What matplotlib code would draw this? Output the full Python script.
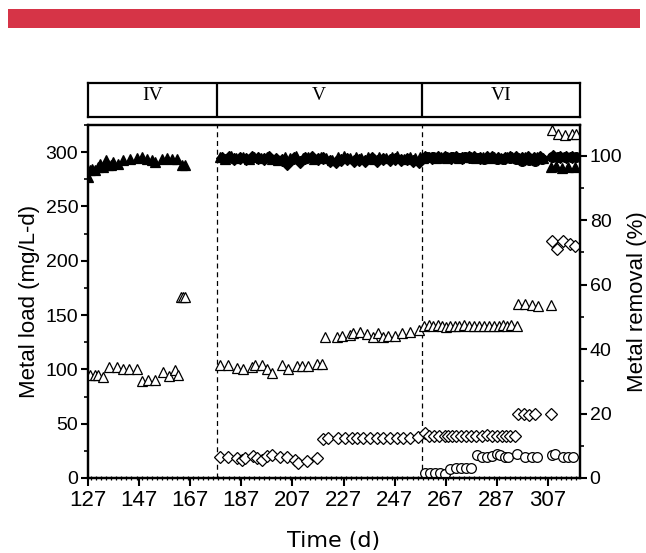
import matplotlib
matplotlib.use("Agg")
import matplotlib.pyplot as plt
from matplotlib.patches import Rectangle
from matplotlib.ticker import MultipleLocator, FixedLocator

# ---------------- data ----------------
phase_names = ["IV", "V", "VI"]
phase_bounds = [127, 177.5, 257.5, 319.5]
x_ticks = [127, 147, 167, 187, 207, 227, 247, 267, 287, 307]

# Metal load (left axis) - open triangles
load_tri_days = [127.8, 129.7, 131.0, 133.0, 135.3, 138.2, 140.8, 143.2, 146.0, 148.0,
                 150.6, 153.2, 156.5, 158.8, 161.0, 162.3, 163.2, 164.0, 164.8,
                 178.6, 181.9, 185.2, 187.8, 191.0, 192.3, 195.0, 196.9, 198.8, 202.8,
                 205.4, 208.6, 210.6, 213.2, 216.5, 218.5,
                 219.7, 224.3, 226.3, 229.5, 230.8, 233.4, 236.0, 238.6, 240.6, 242.5,
                 244.5, 247.1, 249.7, 253.0, 256.5,
                 258.5, 260.5, 262.0, 264.0, 265.5, 267.0, 268.5, 270.5, 272.0, 274.0,
                 276.0, 278.0, 280.0, 282.0, 284.0, 286.0, 288.0, 289.5, 291.0, 292.5, 295.0,
                 295.4, 298.0, 300.7, 303.0, 308.2,
                 308.6, 311.0, 313.6, 316.4, 317.8]
load_tri_vals = [95, 95, 95, 93, 102, 102, 100, 100, 100, 89,
                 90, 90, 98, 94, 99, 95, 167, 167, 167,
                 104, 104, 101, 100, 102, 104, 104, 100, 97, 104,
                 100, 103, 103, 103, 104.5, 104.5,
                 130, 130, 130.6, 131.6, 133.1, 134.6, 132.2, 130, 133.1, 130,
                 130.6, 130.6, 133.1, 134.6, 136.5,
                 140, 141, 140, 141, 140, 139, 140, 140, 140, 141,
                 140, 140, 140, 140, 140, 140, 140, 141, 140, 141, 140,
                 160, 160, 159, 158.5, 159,
                 320, 317, 315.5, 317, 316.5]

# Metal load (left axis) - open diamonds
load_dia_days = [178.6, 181.9, 185.2, 187.1, 188.4, 191.7, 193.0, 195.0, 196.9, 198.9,
                 202.1, 204.7, 208.0, 209.3, 212.5, 216.5,
                 219.1, 221.0, 224.9, 227.5, 230.2, 232.1, 234.7, 237.3, 239.9, 242.5,
                 245.1, 247.8, 250.4, 253.0, 256.2,
                 258.7, 260.5, 262.5, 264.5, 266.5, 268.0, 269.5, 271.0, 273.0, 275.0,
                 277.0, 279.0, 281.0, 283.0, 285.0, 287.0, 289.0, 290.5, 292.0, 294.0,
                 295.4, 297.5, 299.5, 302.0, 308.3,
                 308.7, 310.5, 313.0, 315.6, 317.6]
load_dia_vals = [19, 19, 18, 17, 18, 20, 18, 17, 20, 21,
                 19, 19, 17, 14, 16, 18,
                 36, 37, 36.5, 36.5, 36.5, 36.5, 36.5, 36.5, 36.5, 36.5,
                 36.5, 36.5, 36.5, 36.5, 37.5,
                 41, 39, 39, 39, 39, 39, 39, 39, 39, 39,
                 39, 39, 39, 39.5, 39, 39, 39, 38.5, 39, 39,
                 59, 58.5, 58, 58.5, 58.5,
                 218, 211, 218, 215, 214]

# Metal load (left axis) - open circles
load_cir_days = [258.8, 260.8, 262.8, 264.7, 266.7,
                 268.6, 271.0, 272.9, 274.9, 276.8,
                 279.1, 281.0, 283.0, 285.0, 287.1, 288.2, 290.1, 291.4, 294.7, 298.0,
                 300.6, 302.5, 308.4, 309.7, 313.0, 314.9, 316.9]
load_cir_vals = [4.3, 4.3, 4.3, 4.3, 3.5,
                 8, 9, 9, 9, 9,
                 21, 19.6, 19.6, 20.2, 22, 21, 19.6, 19, 22, 19.6,
                 19.6, 19.6, 21, 22, 19.6, 19.6, 19.6]

# Metal removal (right axis) - filled triangles
rem_tri_days = [127.1, 127.8, 128.6, 129.7, 130.8, 131.7, 133.0, 134.0, 134.9, 136.0,
                136.9, 138.9, 140.8, 143.4, 146.0, 148.0, 150.0, 151.9, 153.2, 155.8,
                157.8, 159.7, 161.7, 163.7, 165.0,
                178.5, 180.5, 183, 185, 187.5, 190, 192, 194.5, 197, 199, 201.5, 204,
                206, 208.5, 211, 213, 215.5, 218, 220, 222.5, 225, 227, 229.5, 232,
                234, 236.5, 239, 241, 243.5, 246, 248, 250.5, 253, 255, 257,
                258, 260.5, 263, 265, 267.5, 270, 272, 274.5, 277, 279, 281.5, 284,
                286, 288.5, 291, 293, 295.5, 298, 300, 302.5, 305, 308, 310, 312.5,
                315, 317.5]
rem_tri_vals = [93.5, 95.5, 96.0, 95.5, 96.5, 97.5, 96.5, 98.5, 97.0, 97.0,
                98.0, 97.5, 98.5, 99.0, 99.2, 99.5, 99.0, 98.5, 98.0, 99.0,
                99.2, 99.0, 98.8, 97.0, 97.0,
                99.5, 99.0, 99.8, 99.2, 99.5, 98.8, 99.6, 99.3, 99.7, 99.0, 98.5, 99.5,
                99.2, 99.8, 99.4, 99.6, 99.0, 99.7, 99.3, 98.6, 99.5, 99.8, 99.2, 99.6,
                99.4, 99.7, 99.0, 99.5, 99.3, 99.6, 99.8, 99.1, 99.5, 99.2, 99.6,
                99.3, 99.6, 99.2, 99.5, 99.4, 99.7, 99.3, 99.6, 99.5, 99.2, 99.6, 99.4,
                99.7, 99.3, 99.5, 99.6, 99.4, 99.5, 99.3, 99.6, 99.4, 96.5, 96.8, 96.2,
                96.6, 96.4]

# Metal removal (right axis) - filled diamonds
rem_dia_days = [179.5, 182, 184, 186.5, 189, 191, 193.5, 196, 198, 200.5, 203, 205,
                207.5, 210, 212, 214.5, 217, 219, 221.5, 224, 226, 228.5, 231, 233,
                235.5, 238, 240, 242.5, 245, 247, 249.5, 252, 254, 256.5,
                259, 261.5, 264, 266.5, 269, 271, 273.5, 276, 278, 280.5, 283, 285,
                287.5, 290, 292, 294.5, 297, 299, 301.5, 304, 309, 311.5, 314, 316.5]
rem_dia_vals = [99.2, 99.6, 98.9, 99.4, 99.0, 99.5, 99.2, 98.8, 99.5, 99.0, 98.5, 97.5,
                99.2, 98.0, 99.4, 99.6, 99.0, 99.3, 98.2, 98.0, 98.5, 99.0, 98.2, 98.6,
                98.4, 99.2, 98.3, 98.8, 98.5, 99.0, 98.6, 99.1, 98.4, 98.0,
                99.6, 99.3, 99.7, 99.5, 99.4, 99.6, 99.2, 99.5, 99.7, 99.3, 99.5, 99.6,
                99.2, 99.4, 99.6, 99.5, 99.3, 99.6, 99.4, 99.5, 99.8, 99.6, 99.7, 99.5]

# Metal removal (right axis) - filled circles
rem_cir_days = [259.5, 262, 264.5, 267, 269.5, 272, 274.5, 277, 279.5, 282, 284.5, 287,
                289.5, 292, 294.5, 297, 299.5, 302, 304.5, 308.5, 311, 313.5, 316, 318]
rem_cir_vals = [99.5, 99.6, 99.4, 99.5, 99.6, 99.3, 99.5, 99.4, 99.2, 99.0, 99.3, 99.1,
                98.9, 99.2, 98.8, 98.4, 98.6, 98.3, 98.8, 99.6, 99.7, 99.5, 99.6, 99.7]

# ---------------- figure ----------------
W, H = 646, 553
fig = plt.figure(figsize=(W / 100, H / 100), dpi=100)

# red banner
fig.patches.append(Rectangle((8 / W, 1 - 28 / H), 632 / W, 19 / H,
                             transform=fig.transFigure, facecolor="#d63447",
                             edgecolor="none", zorder=0))

ax_l, ax_r = 88 / W, 580 / W
ax_b, ax_t = 1 - 478 / H, 1 - 125 / H
ax = fig.add_axes([ax_l, ax_b, ax_r - ax_l, ax_t - ax_b])
ax2 = ax.twinx()

xlim = (phase_bounds[0], phase_bounds[-1])
ax.set_xlim(*xlim)
ax.set_ylim(0, 325)
ax2.set_ylim(0, 109.5)

ms_tri, ms_dia, ms_cir = 7.5, 6.0, 7.0
mew = 0.9
ax.plot(load_tri_days, load_tri_vals, ls="none", marker="^", ms=ms_tri, mfc="white",
        mec="black", mew=mew, zorder=3)
ax.plot(load_dia_days, load_dia_vals, ls="none", marker="D", ms=ms_dia, mfc="white",
        mec="black", mew=mew, zorder=3)
ax.plot(load_cir_days, load_cir_vals, ls="none", marker="o", ms=ms_cir, mfc="white",
        mec="black", mew=mew, zorder=3)
ax2.plot(rem_tri_days, rem_tri_vals, ls="none", marker="^", ms=ms_tri, mfc="black",
         mec="black", mew=mew, zorder=3)
ax2.plot(rem_dia_days, rem_dia_vals, ls="none", marker="D", ms=ms_dia, mfc="black",
         mec="black", mew=mew, zorder=3)
ax2.plot(rem_cir_days, rem_cir_vals, ls="none", marker="o", ms=ms_cir, mfc="black",
         mec="black", mew=mew, zorder=3)

for b in phase_bounds[1:-1]:
    ax.axvline(b, color="black", ls=(0, (4, 3)), lw=0.9, zorder=1)

for a in (ax, ax2):
    for s in a.spines.values():
        s.set_linewidth(1.6)

ax.xaxis.set_major_locator(FixedLocator(x_ticks))
ax.xaxis.set_minor_locator(MultipleLocator(2))
ax.yaxis.set_major_locator(MultipleLocator(50))
ax.yaxis.set_minor_locator(MultipleLocator(25))
ax2.yaxis.set_major_locator(MultipleLocator(20))
ax2.yaxis.set_minor_locator(MultipleLocator(10))

ax.tick_params(axis="x", which="major", direction="out", length=6, width=1.5,
               labelsize=16, pad=3)
ax.tick_params(axis="x", which="minor", direction="inout", length=3, width=0.9)
ax.tick_params(axis="y", which="major", direction="out", length=5, width=1.5,
               labelsize=14, pad=2)
ax.tick_params(axis="y", which="minor", direction="out", length=3, width=1.2)
ax2.tick_params(axis="y", which="major", direction="out", length=5, width=1.5,
                labelsize=14, pad=2)
ax2.tick_params(axis="y", which="minor", direction="out", length=3, width=1.2)

for lab in ax.get_xticklabels():
    lab.set_family(["Liberation Sans Narrow", "Liberation Sans", "DejaVu Sans"])
for lab in ax.get_yticklabels() + ax2.get_yticklabels():
    lab.set_family(["Liberation Sans", "DejaVu Sans"])

ax.set_ylabel("Metal load (mg/L-d)", fontsize=16, family=["Liberation Sans", "DejaVu Sans"],
              labelpad=4)
ax2.set_ylabel("Metal removal (%)", fontsize=16, family=["Liberation Sans", "DejaVu Sans"],
               labelpad=3)
ax.set_xlabel("Time (d)", fontsize=16, family=["DejaVu Sans"], labelpad=14)

# phase box
bx = fig.add_axes([ax_l, 1 - 117 / H, ax_r - ax_l, 34 / H])
bx.set_xlim(*xlim)
bx.set_ylim(0, 1)
bx.set_xticks([])
bx.set_yticks([])
for s in bx.spines.values():
    s.set_linewidth(1.6)
for b in phase_bounds[1:-1]:
    bx.axvline(b, color="black", lw=1.6)
for i, name in enumerate(phase_names):
    xc = (phase_bounds[i] + phase_bounds[i + 1]) / 2
    bx.text(xc, 0.62, name, ha="center", va="center", fontsize=14,
            family=["Liberation Serif", "DejaVu Serif"])

fig.savefig("out.png", dpi=100)
